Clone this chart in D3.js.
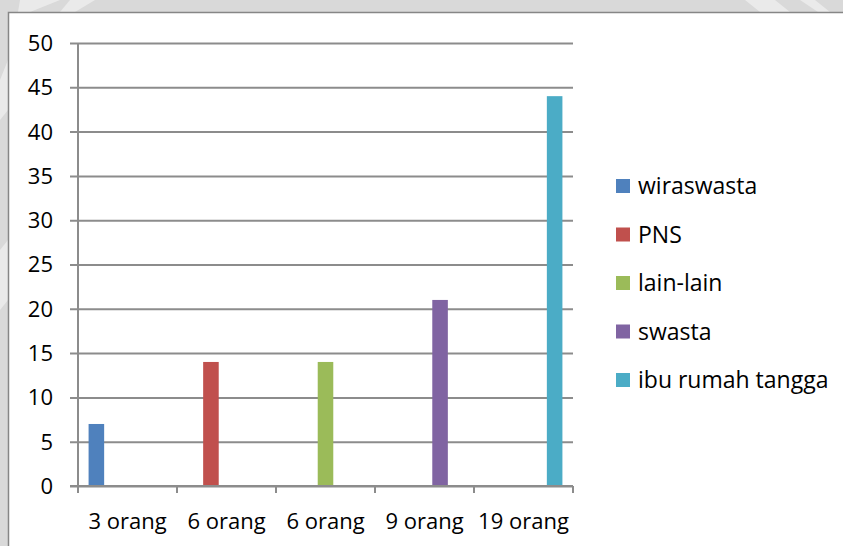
<!DOCTYPE html>
<html>
<head>
<meta charset="utf-8">
<script src="https://cdn.jsdelivr.net/npm/d3@7"></script>
<style>
  html, body { margin: 0; padding: 0; background: #d9d9d9; }
  svg { display: block; }
  text { font-family: "Open Sans", "Noto Sans", sans-serif; fill: #000; }
</style>
</head>
<body>
<div id="chart"></div>
<script>
// Categories along the x axis
const categories = ["3 orang", "6 orang", "6 orang", "9 orang", "19 orang"];
// Series (occupations) shown in the legend
const seriesNames = ["wiraswasta", "PNS", "lain-lain", "swasta", "ibu rumah tangga"];
const seriesColors = ["#4f81bd", "#c0504d", "#9bbb59", "#8064a2", "#4bacc6"];
// Percentage per series; each series has a value only in its own category
const wiraswasta = [7, 0, 0, 0, 0];
const pns = [0, 14, 0, 0, 0];
const lainLain = [0, 0, 14, 0, 0];
const swasta = [0, 0, 0, 21, 0];
const ibuRumahTangga = [0, 0, 0, 0, 44];
const yTicks = [0, 5, 10, 15, 20, 25, 30, 35, 40, 45, 50];

const seriesValues = [wiraswasta, pns, lainLain, swasta, ibuRumahTangga];

const W = 843, H = 546;
const svg = d3.select("#chart").append("svg").attr("width", W).attr("height", H);

// Gray page background with faint light shapes
const bg = svg.append("g");
bg.append("rect").attr("width", W).attr("height", H).attr("fill", "#d9d9d9");
const shapes = [
  [[20, 0], [60, 0], [30, 12], [18, 12]],
  [[70, 0], [95, 0], [75, 12], [60, 12]],
  [[745, 0], [775, 0], [790, 12], [760, 12]],
  [[800, 0], [815, 0], [830, 12], [818, 12]],
  [[0, 250], [8, 240], [8, 300], [0, 310]],
  [[0, 80], [8, 60], [8, 110], [0, 120]]
];
bg.selectAll("path.shape").data(shapes).join("path")
  .attr("class", "shape")
  .attr("d", d => "M" + d.join("L") + "Z")
  .attr("fill", "#ffffff").attr("opacity", 0.45);

// White chart area, border shown on top and left only
svg.append("rect").attr("x", 8.5).attr("y", 12.5).attr("width", W).attr("height", H)
  .attr("fill", "#ffffff");
svg.append("path").attr("d", `M8.5,${H}V12.5H${W}`)
  .attr("fill", "none").attr("stroke", "#868686").attr("stroke-width", 1.5);

const plot = { left: 78, right: 573, top: 43, bottom: 486 };

const x = d3.scaleBand().domain(d3.range(categories.length))
  .range([plot.left, plot.right]).paddingInner(0).paddingOuter(0);
const xInner = d3.scaleBand().domain(d3.range(seriesNames.length))
  .range([0, x.bandwidth()]).paddingInner(0).paddingOuter(0.68);
const y = d3.scaleLinear().domain([0, 50]).range([plot.bottom, plot.top]);

const gridColor = "#8c8c8c";

// Horizontal gridlines with left tick marks
const yAxis = d3.axisLeft(y).tickValues(yTicks)
  .tickSize(-(plot.right - plot.left)).tickSizeOuter(0).tickPadding(25);
const gy = svg.append("g").attr("transform", `translate(${plot.left},0)`).call(yAxis);
gy.select(".domain").remove();
gy.selectAll(".tick line").attr("stroke", gridColor).attr("stroke-width", 2)
  .attr("x1", -8);
gy.selectAll(".tick text").attr("font-size", 22).attr("font-family", "Open Sans")
  .attr("fill", "#000").attr("dy", "0.34em");

// Vertical axis line
svg.append("line").attr("x1", plot.left).attr("x2", plot.left)
  .attr("y1", plot.top).attr("y2", plot.bottom + 6)
  .attr("stroke", gridColor).attr("stroke-width", 2);

// Bars
const barData = [];
seriesValues.forEach((vals, s) => vals.forEach((v, c) => {
  if (v > 0) barData.push({ s, c, v });
}));
svg.append("g").selectAll("rect").data(barData).join("rect")
  .attr("x", d => x(d.c) + xInner(d.s))
  .attr("width", xInner.bandwidth())
  .attr("y", d => y(d.v))
  .attr("height", d => y(0) - y(d.v))
  .attr("fill", d => seriesColors[d.s]);

// Category axis with boundary ticks
const bounds = d3.range(categories.length + 1).map(i => i === categories.length ? plot.right : x(i));
svg.append("line").attr("x1", plot.left - 8).attr("x2", plot.right)
  .attr("y1", plot.bottom).attr("y2", plot.bottom)
  .attr("stroke", gridColor).attr("stroke-width", 2);
svg.append("g").selectAll("line").data(bounds).join("line")
  .attr("x1", d => d).attr("x2", d => d)
  .attr("y1", plot.bottom).attr("y2", plot.bottom + 7)
  .attr("stroke", gridColor).attr("stroke-width", 2);
svg.append("g").selectAll("text").data(categories).join("text")
  .attr("x", (d, i) => x(i) + x.bandwidth() / 2)
  .attr("y", 529)
  .attr("text-anchor", "middle")
  .attr("font-size", 22)
  .text(d => d);

// Legend
const legend = svg.append("g").attr("transform", "translate(616,0)");
const legendY = d3.scalePoint().domain(d3.range(seriesNames.length)).range([186, 380]);
const li = legend.selectAll("g").data(seriesNames).join("g")
  .attr("transform", (d, i) => `translate(0,${legendY(i)})`);
li.append("rect").attr("x", 0).attr("y", -7).attr("width", 14).attr("height", 14)
  .attr("fill", (d, i) => seriesColors[i]);
li.append("text").attr("x", 22).attr("dy", "0.36em").attr("font-size", 23).text(d => d);
</script>
</body>
</html>
